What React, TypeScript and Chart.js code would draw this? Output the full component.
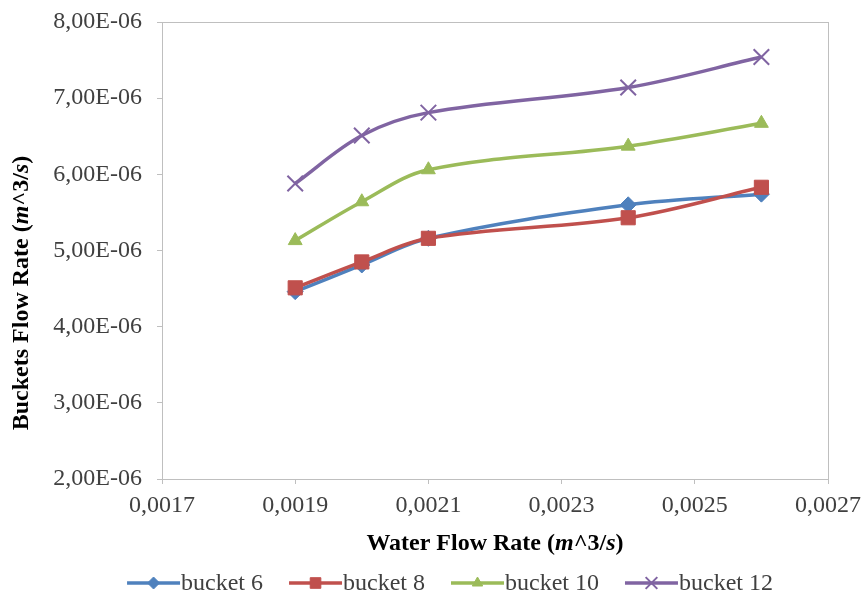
import React, { useEffect, useRef } from "react";
import { Chart, registerables } from "chart.js";
import { drawPoint } from "chart.js/helpers";

Chart.register(...registerables);

const waterFlow = [0.0019, 0.002, 0.0021, 0.0024, 0.0026];
const bucket6 = [4.46e-6, 4.81e-6, 5.16e-6, 5.6e-6, 5.74e-6];
const bucket8 = [4.51e-6, 4.85e-6, 5.16e-6, 5.43e-6, 5.83e-6];
const bucket10 = [5.13e-6, 5.64e-6, 6.06e-6, 6.37e-6, 6.67e-6];
const bucket12 = [5.88e-6, 6.51e-6, 6.81e-6, 7.14e-6, 7.54e-6];
const seriesNames = ["bucket 6", "bucket 8", "bucket 10", "bucket 12"];
const xTicks = [0.0017, 0.0019, 0.0021, 0.0023, 0.0025, 0.0027];
const yTicks = [2e-6, 3e-6, 4e-6, 5e-6, 6e-6, 7e-6, 8e-6];

const FONT = '"Liberation Serif", "Times New Roman", serif';
const TEXT = "#404040";
const AXIS = "#bfbfbf";

function sci(v: number): string {
  const [m, e] = v.toExponential(2).split("e");
  const n = parseInt(e, 10);
  return m.replace(".", ",") + "E" + (n < 0 ? "-" : "+") + String(Math.abs(n)).padStart(2, "0");
}

function dec(v: number): string {
  return v.toFixed(4).replace(".", ",");
}

const titleSegs = (main: string) => [
  { t: main + " (", i: false },
  { t: "m", i: true },
  { t: "^3/", i: false },
  { t: "s", i: true },
  { t: ")", i: false },
];

function drawMixed(ctx: CanvasRenderingContext2D, segs: { t: string; i: boolean }[], cx: number, cy: number, size: number) {
  const fontFor = (it: boolean) => `${it ? "italic " : ""}bold ${size}px ${FONT}`;
  let total = 0;
  const widths = segs.map((s) => {
    ctx.font = fontFor(s.i);
    const w = ctx.measureText(s.t).width;
    total += w;
    return w;
  });
  let x = cx - total / 2;
  ctx.textBaseline = "middle";
  ctx.textAlign = "left";
  segs.forEach((s, k) => {
    ctx.font = fontFor(s.i);
    ctx.fillText(s.t, x, cy);
    x += widths[k];
  });
}

const decorPlugin = {
  id: "decor",
  beforeDatasetsDraw(chart: any) {
    const { ctx, chartArea } = chart;
    ctx.save();
    ctx.strokeStyle = AXIS;
    ctx.lineWidth = 1;
    ctx.strokeRect(chartArea.left + 0.5, chartArea.top + 0.5, chartArea.right - chartArea.left, chartArea.bottom - chartArea.top);
    ctx.restore();
  },
  afterDraw(chart: any) {
    const { ctx } = chart;
    ctx.save();
    ctx.fillStyle = "#000";
    drawMixed(ctx, titleSegs("Water Flow Rate"), 495, 544, 24);
    ctx.save();
    ctx.translate(22, 293);
    ctx.rotate(-Math.PI / 2);
    drawMixed(ctx, titleSegs("Buckets Flow Rate"), 0, 0, 24);
    ctx.restore();

    // legend
    const ds = chart.data.datasets;
    ctx.font = `24px ${FONT}`;
    const lineLen = 53, gap = 1, itemGap = 26;
    const widths = ds.map((d: any) => lineLen + gap + ctx.measureText(d.label).width);
    const total = widths.reduce((a: number, b: number) => a + b, 0) + itemGap * (ds.length - 1);
    let x = 450 - total / 2;
    const y = 583;
    ds.forEach((d: any, k: number) => {
      ctx.strokeStyle = d.borderColor;
      ctx.lineWidth = d.borderWidth;
      ctx.beginPath();
      ctx.moveTo(x, y);
      ctx.lineTo(x + lineLen, y);
      ctx.stroke();
      ctx.fillStyle = d.pointBackgroundColor;
      ctx.strokeStyle = d.pointBorderColor;
      ctx.lineWidth = d.pointBorderWidth;
      drawPoint(ctx, { pointStyle: d.pointStyle, radius: d.pointRadius * 0.75, borderWidth: d.pointBorderWidth, rotation: 0 }, x + lineLen / 2, y);
      ctx.fillStyle = TEXT;
      ctx.textAlign = "left";
      ctx.textBaseline = "middle";
      ctx.fillText(d.label, x + lineLen + gap, y + 1);
      x += widths[k] + itemGap;
    });
    ctx.restore();
  },
};

export default function App() {
  const ref = useRef<HTMLCanvasElement | null>(null);
  useEffect(() => {
    if (!ref.current) return;
    const mk = (label: string, ys: number[], color: string, style: string, r: number, bw: number, order: number) => ({
      label,
      data: waterFlow.map((x, i) => ({ x, y: ys[i] })),
      borderColor: color,
      backgroundColor: color,
      pointBackgroundColor: color,
      pointBorderColor: color,
      borderWidth: 3.5,
      pointStyle: style,
      pointRadius: r,
      pointBorderWidth: bw,
      tension: 0.35,
      fill: false,
      order,
    });
    const chart = new Chart(ref.current, {
      type: "line",
      data: {
        datasets: [
          mk(seriesNames[0], bucket6, "#4f81bd", "rectRot", 8, 1, 4),
          mk(seriesNames[1], bucket8, "#c0504d", "rect", 10, 1, 3),
          mk(seriesNames[2], bucket10, "#9bbb59", "triangle", 8, 1, 2),
          mk(seriesNames[3], bucket12, "#8064a2", "crossRot", 11, 2, 1),
        ] as any,
      },
      options: {
        animation: false,
        responsive: false,
        devicePixelRatio: 1,
        layout: { padding: { top: 22, right: 36, bottom: 48, left: 0 } },
        plugins: { legend: { display: false }, tooltip: { enabled: false }, title: { display: false } },
        scales: {
          x: {
            type: "linear",
            min: 0.0017,
            max: 0.0027,
            afterBuildTicks: (s: any) => {
              s.ticks = xTicks.map((v) => ({ value: v }));
            },
            afterFit: (s: any) => {
              s.height = 601 - 48 - 479;
              s.paddingLeft = 0;
              s.paddingRight = 0;
            },
            ticks: { callback: (v: any) => dec(Number(v)), font: { family: FONT, size: 24 }, color: TEXT, padding: 7, maxRotation: 0, autoSkip: false },
            grid: { drawOnChartArea: false, color: AXIS, tickLength: 5, tickColor: AXIS },
            border: { color: AXIS },
          },
          y: {
            type: "linear",
            min: 2e-6,
            max: 8e-6,
            afterBuildTicks: (s: any) => {
              s.ticks = yTicks.map((v) => ({ value: v }));
            },
            afterFit: (s: any) => {
              s.width = 162;
              s.paddingTop = 0;
              s.paddingBottom = 0;
            },
            ticks: { callback: (v: any) => sci(Number(v)), font: { family: FONT, size: 24 }, color: TEXT, padding: 15, autoSkip: false },
            grid: { drawOnChartArea: false, color: AXIS, tickLength: 5, tickColor: AXIS },
            border: { color: AXIS },
          },
        },
      },
      plugins: [decorPlugin],
    });
    return () => chart.destroy();
  }, []);
  return (
    <div style={{ position: "fixed", left: 0, top: 0, width: 864, height: 601, background: "#fff" }}>
      <canvas ref={ref} width={864} height={601} />
    </div>
  );
}
